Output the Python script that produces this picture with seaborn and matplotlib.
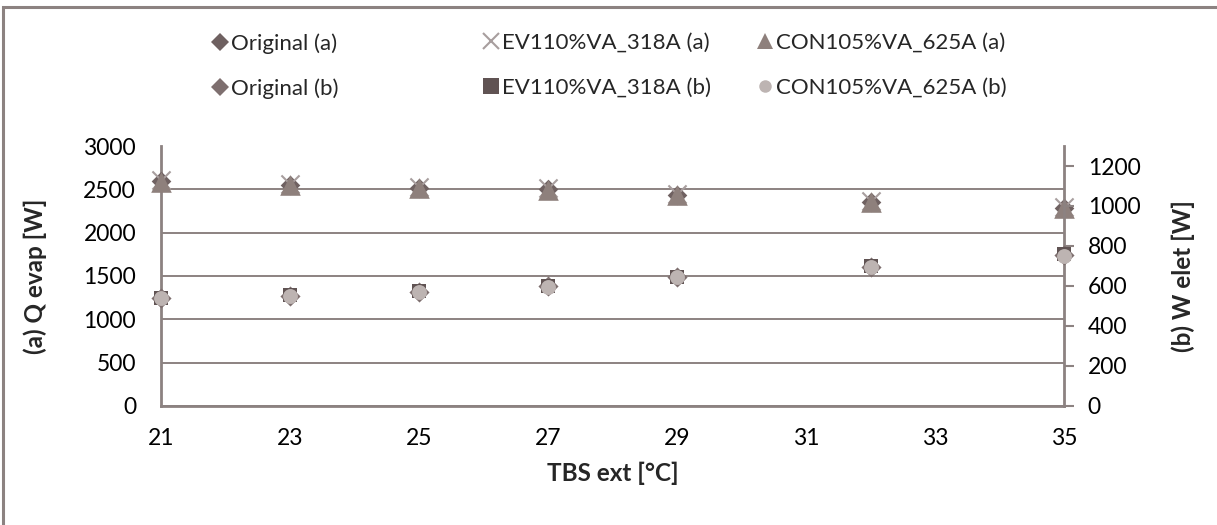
import matplotlib
matplotlib.use("Agg")
import matplotlib.pyplot as plt
import seaborn as sns
import pandas as pd
from matplotlib.lines import Line2D
from matplotlib.patches import Rectangle

# Outdoor dry-bulb temperature
tbs_ext = [21, 23, 25, 27, 29, 32, 35]

# (a) evaporator capacity [W]
q_original = [2600, 2555, 2520, 2500, 2435, 2355, 2290]
q_ev = [2610, 2565, 2530, 2510, 2445, 2370, 2300]
q_con = [2590, 2550, 2515, 2495, 2430, 2350, 2285]

# (b) electric power [W]
w_original = [540, 552, 572, 598, 645, 697, 755]
w_ev = [542, 554, 574, 600, 647, 700, 758]
w_con = [538, 550, 570, 596, 643, 695, 752]

left_ticks = [0, 500, 1000, 1500, 2000, 2500, 3000]
right_ticks = [0, 200, 400, 600, 800, 1000, 1200]
x_ticks = [21, 23, 25, 27, 29, 31, 33, 35]

sns.set_theme(style="white")
plt.rcParams["font.family"] = ["Lato", "DejaVu Sans"]

AXC = "#8C8281"
FS_TICK = 16.5
FS_LEG = 16
FS_LAB = 17.5

fig = plt.figure(figsize=(12.17, 5.25), dpi=100)
ax = fig.add_axes([0.1323, 0.2267, 0.8743 - 0.1323, 0.7219 - 0.2267])
ax2 = ax.twinx()

df = pd.DataFrame({
    "tbs": tbs_ext,
    "q_original": q_original, "q_ev": q_ev, "q_con": q_con,
    "w_original": w_original, "w_ev": w_ev, "w_con": w_con,
})

styles = {
    "Original (a)": dict(marker="D", color="#6F6161", s=100, lw=0),
    "EV110%VA_318A (a)": dict(marker="x", color="#A89E9E", s=170, lw=1.5),
    "CON105%VA_625A (a)": dict(marker="^", color="#8E807C", s=220, lw=0),
    "Original (b)": dict(marker="D", color="#7E6F6F", s=105, lw=0),
    "EV110%VA_318A (b)": dict(marker="s", color="#605353", s=110, lw=0),
    "CON105%VA_625A (b)": dict(marker="o", color="#BDB4B2", s=115, lw=0),
}

for col, name in [("q_original", "Original (a)"), ("q_ev", "EV110%VA_318A (a)"),
                  ("q_con", "CON105%VA_625A (a)")]:
    st = styles[name]
    sns.scatterplot(data=df, x="tbs", y=col, ax=ax, marker=st["marker"], color=st["color"],
                    s=st["s"], linewidth=st["lw"], zorder=3, clip_on=False, legend=False)

for col, name in [("w_original", "Original (b)"), ("w_ev", "EV110%VA_318A (b)"),
                  ("w_con", "CON105%VA_625A (b)")]:
    st = styles[name]
    sns.scatterplot(data=df, x="tbs", y=col, ax=ax2, marker=st["marker"], color=st["color"],
                    s=st["s"], linewidth=st["lw"], zorder=3, clip_on=False, legend=False)

ax.set_xlim(21, 35)
ax.set_ylim(0, 3000)
ax2.set_ylim(0, 1300)
ax.set_xticks(x_ticks)
ax.set_yticks(left_ticks)
ax2.set_yticks(right_ticks)
ax.set_xticklabels([str(v) for v in x_ticks])
ax.set_yticklabels([str(v) for v in left_ticks])
ax2.set_yticklabels([str(v) for v in right_ticks])

ax.grid(axis="y", color=AXC, lw=1.4)
ax.grid(axis="x", visible=False)
ax2.grid(False)
ax.get_ygridlines()[-1].set_visible(False)

for a in (ax, ax2):
    a.spines["top"].set_visible(False)
    for side in ("left", "bottom", "right"):
        a.spines[side].set_color(AXC)
        a.spines[side].set_linewidth(2)
ax.spines["right"].set_visible(False)
ax2.spines["left"].set_visible(False)
ax2.spines["bottom"].set_visible(False)

ax.tick_params(axis="y", length=0, pad=18, labelsize=FS_TICK, labelcolor="black")
ax.tick_params(axis="x", length=0, pad=16, labelsize=FS_TICK, labelcolor="black")
ax2.tick_params(axis="y", right=True, length=7, width=1.5, color=AXC, pad=10,
                labelsize=FS_TICK, labelcolor="black")

ax.set_xlabel("TBS ext [°C]", fontsize=FS_LAB, fontweight="bold", labelpad=9)
ax.set_ylabel("(a) Q evap [W]", fontsize=FS_LAB, fontweight="bold", labelpad=26)
ax2.set_ylabel("(b) W elet [W]", fontsize=FS_LAB, fontweight="bold", labelpad=22)

# (a) markers drawn over the grid of the primary axis, (b) markers above them
ax.set_zorder(1)
ax2.set_zorder(2)
ax2.patch.set_visible(False)


def handle(name):
    st = styles[name]
    return Line2D([], [], linestyle="none", marker=st["marker"], color=st["color"],
                  markersize={"D": 9.5, "x": 11, "^": 12, "s": 11, "o": 9}[st["marker"]],
                  markeredgewidth=1.5 if st["marker"] == "x" else 0)


columns = [
    (["Original (a)", "Original (b)"], 0.166),
    (["EV110%VA_318A (a)", "EV110%VA_318A (b)"], 0.389),
    (["CON105%VA_625A (a)", "CON105%VA_625A (b)"], 0.614),
]
for names, x0 in columns:
    fig.legend(handles=[handle(n) for n in names], labels=names, loc="upper left",
               bbox_to_anchor=(x0, 0.958), frameon=False, fontsize=FS_LEG,
               handlelength=0.6, handletextpad=0.2, labelspacing=1.1, borderpad=0)

fig.patches.append(Rectangle((0.0025, -0.05), 1.1, 0.9867 + 0.05, transform=fig.transFigure,
                             fill=False, edgecolor=AXC, lw=2.2, zorder=10))

fig.savefig("out.png", dpi=100)
